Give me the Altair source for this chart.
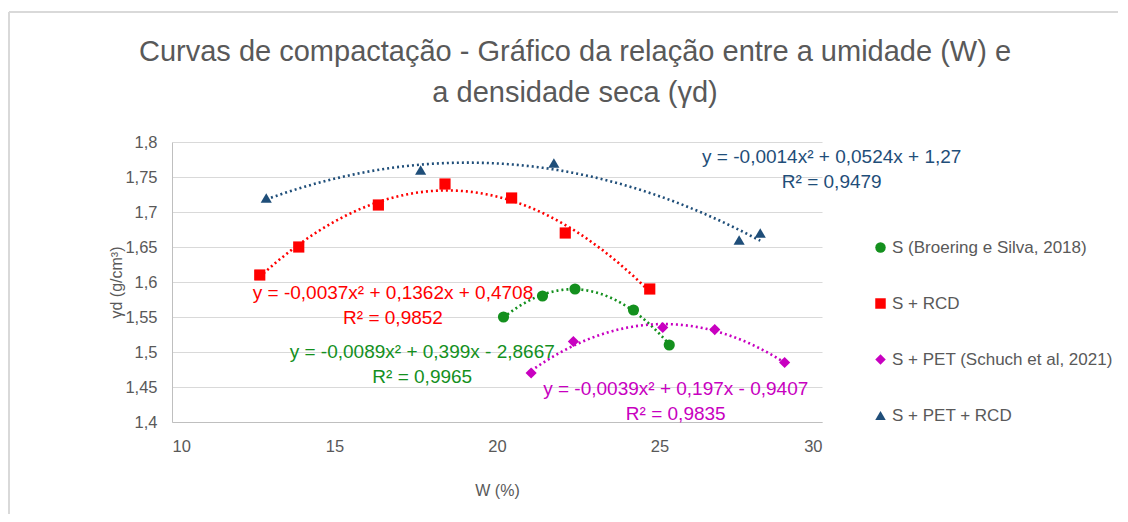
import altair as alt
import pandas as pd

# ---- data ----
series_names = ["S (Broering e Silva, 2018)", "S + RCD", "S + PET (Schuch et al, 2021)", "S + PET + RCD"]
series_colors = ["#14901E", "#FF0000", "#C800C0", "#1F4E79"]
series_shapes = ["circle", "square", "diamond", "triangle-up"]

w_s = [20.2, 21.4, 22.4, 24.2, 25.3]
yd_s = [1.55, 1.58, 1.59, 1.56, 1.51]

w_rcd = [12.7, 13.9, 16.35, 18.4, 20.45, 22.1, 24.7]
yd_rcd = [1.61, 1.65, 1.71, 1.74, 1.72, 1.67, 1.59]

w_pet = [21.05, 22.35, 25.1, 26.7, 28.85]
yd_pet = [1.47, 1.515, 1.535, 1.532, 1.485]

w_petrcd = [12.9, 17.65, 21.75, 27.45, 28.1]
yd_petrcd = [1.72, 1.76, 1.77, 1.66, 1.67]

eq_texts = [
    ["y = -0,0089x² + 0,399x - 2,8667", "R² = 0,9965"],
    ["y = -0,0037x² + 0,1362x + 0,4708", "R² = 0,9852"],
    ["y = -0,0039x² + 0,197x - 0,9407", "R² = 0,9835"],
    ["y = -0,0014x² + 0,0524x + 1,27", "R² = 0,9479"],
]
eq_w = [17.7, 16.8, 25.5, 30.3]
eq_yd = [1.500, 1.584, 1.447, 1.779]

y_ticks = [1.4, 1.45, 1.5, 1.55, 1.6, 1.65, 1.7, 1.75, 1.8]
x_ticks = [10, 15, 20, 25, 30]

rows = []
for name, ws, ys in zip(series_names, [w_s, w_rcd, w_pet, w_petrcd], [yd_s, yd_rcd, yd_pet, yd_petrcd]):
    for w, y in zip(ws, ys):
        rows.append({"serie": name, "W": w, "yd": y})
df = pd.DataFrame(rows)

ann = pd.DataFrame({"serie": series_names, "W": eq_w, "yd": eq_yd,
                    "txt": ["\n".join(t) for t in eq_texts]})

FONT = "Liberation Sans, Arial, sans-serif"
GRAY = "#595959"

color_scale = alt.Scale(domain=series_names, range=series_colors)
shape_scale = alt.Scale(domain=series_names, range=series_shapes)

x_enc = alt.X("W:Q", scale=alt.Scale(domain=[10, 30], nice=False),
              axis=alt.Axis(values=x_ticks, title="W (%)", grid=False,
                            tickSize=0, labelPadding=16, titlePadding=28,
                            domainColor="#BFBFBF", labelOverlap=False))
y_enc = alt.Y("yd:Q", scale=alt.Scale(domain=[1.4, 1.8], nice=False, zero=False),
              axis=alt.Axis(values=y_ticks,
                            labelExpr="replace(format(datum.value, '.2~f'), '.', ',')",
                            title="γd (g/cm³)", tickSize=0, labelPadding=15,
                            titlePadding=0, domain=True, domainColor="#BFBFBF",
                            gridColor="#D9D9D9", labelOverlap=False))

legend = alt.Legend(title=None, orient="none", legendX=700, legendY=97,
                    symbolSize=110, labelFontSize=17, labelColor=GRAY,
                    labelFont=FONT, rowPadding=38, symbolStrokeWidth=0,
                    labelOffset=3, labelLimit=320)

points = alt.Chart(df).mark_point(filled=True, size=125, opacity=1).encode(
    x=x_enc, y=y_enc,
    color=alt.Color("serie:N", scale=color_scale, sort=series_names, legend=legend),
    shape=alt.Shape("serie:N", scale=shape_scale, sort=series_names, legend=legend),
)

trend = alt.Chart(df).transform_regression(
    "W", "yd", groupby=["serie"], method="poly", order=2
).mark_line(strokeDash=[2, 3], strokeWidth=2.6).encode(
    x=x_enc, y=y_enc,
    color=alt.Color("serie:N", scale=color_scale, legend=None),
)

labels = alt.Chart(ann).mark_text(fontSize=19, font=FONT, lineBreak="\n", lineHeight=25,
                                  align="center", baseline="middle").encode(
    x=x_enc, y=y_enc, text="txt:N",
    color=alt.Color("serie:N", scale=color_scale, legend=None),
)

frame_src = pd.DataFrame({"k": [0]})
frame_left = alt.Chart(frame_src).mark_rule(color="#D9D9D9", strokeWidth=2).encode(
    x=alt.value(-163), y=alt.value(-130), y2=alt.value(380))
frame_top = alt.Chart(frame_src).mark_rule(color="#D9D9D9", strokeWidth=2).encode(
    x=alt.value(-163), x2=alt.value(960), y=alt.value(-130))

chart = alt.layer(frame_left, frame_top, trend, points, labels).resolve_legend(
    color="independent", shape="independent"
).properties(
    width=650, height=280,
    title=alt.Title(["Curvas de compactação - Gráfico da relação entre a umidade (W) e",
                     "a densidade seca (γd)"],
                    fontSize=29, font=FONT, fontWeight="normal", color=GRAY,
                    anchor="middle", frame="group", dx=78, offset=-97, lineHeight=41),
    autosize=alt.AutoSizeParams(type="none"),
    padding={"left": 164, "top": 134, "right": 296, "bottom": 92},
).configure(background="white").configure_view(stroke=None).configure_axis(
    labelFont=FONT, labelFontSize=16.5, labelColor=GRAY,
    titleFont=FONT, titleFontSize=16, titleColor=GRAY, titleFontWeight="normal",
)

chart.save("out.html", embed_options={"renderer": "svg", "actions": False})
